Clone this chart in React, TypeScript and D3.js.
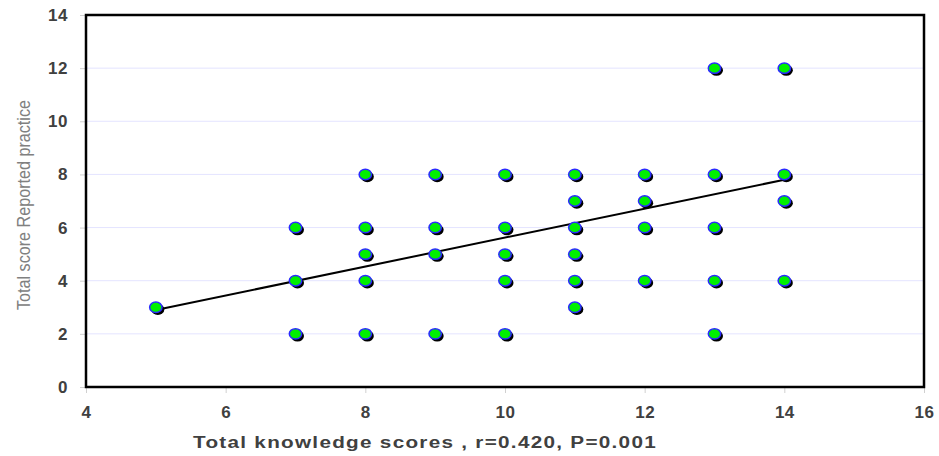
import React, { useEffect, useRef } from 'react';
import * as d3 from 'd3';

const width = 939;
const height = 456;

const margin = {
  top: 15,
  right: 15,
  bottom: 69,
  left: 86
};

// knowledge score (x) and reported practice score (y) per respondent
const knowledge = [5, 7, 7, 7, 8, 8, 8, 8, 8, 9, 9, 9, 9, 10, 10, 10, 10, 10, 11, 11, 11, 11, 11, 11, 12, 12, 12, 12, 13, 13, 13, 13, 13, 14, 14, 14, 14];
const practice = [3, 6, 4, 2, 8, 6, 5, 4, 2, 8, 6, 5, 2, 8, 6, 5, 4, 2, 8, 7, 6, 5, 4, 3, 8, 7, 6, 4, 12, 8, 6, 4, 2, 12, 8, 7, 4];

// fitted line end points
const fitX = [5, 14];
const fitY = [2.9, 7.8];

const xTicks = [4, 6, 8, 10, 12, 14, 16];
const yTicks = [0, 2, 4, 6, 8, 10, 12, 14];

const xTitle = 'Total knowledge scores , r=0.420, P=0.001';
const yTitle = 'Total score Reported practice';

const tickFont = (sel: any) => sel
  .attr('fill', '#404040')
  .style('font-family', 'Liberation Sans, Arial, sans-serif')
  .style('font-weight', 'bold')
  .style('font-size', '17px')
  .style('letter-spacing', '0.5px');

const App = () => {
  const xAxisRef = useRef(null);
  const yAxisRef = useRef(null);

  const xScale = d3.scaleLinear()
    .domain([4, 16])
    .range([margin.left, width - margin.right]);

  const yScale = d3.scaleLinear()
    .domain([0, 14])
    .range([height - margin.bottom, margin.top]);

  useEffect(() => {
    const xAxis = d3.axisBottom(xScale).tickValues(xTicks).tickSize(6).tickPadding(13);
    const gx = d3.select(xAxisRef.current);
    gx.call(xAxis);
    gx.select('.domain').remove();
    gx.selectAll('line').attr('stroke', '#d0d0d0');
    tickFont(gx.selectAll('text'));

    const yAxis = d3.axisLeft(yScale).tickValues(yTicks).tickSize(6).tickPadding(12);
    const gy = d3.select(yAxisRef.current);
    gy.call(yAxis);
    gy.select('.domain').remove();
    gy.selectAll('line').attr('stroke', '#d0d0d0');
    tickFont(gy.selectAll('text'));
  });

  const points = knowledge.map((k, i) => ({ x: xScale(k), y: yScale(practice[i]) }));

  const fitLine = d3.line<number>()
    .x(d => xScale(d))
    .y((d, i) => yScale(fitY[i]));

  const plotW = width - margin.left - margin.right;
  const plotH = height - margin.top - margin.bottom;

  return (
    <svg width={width} height={height} style={{ position: 'absolute', left: 0, top: 0, background: '#fff' }}>
      {yTicks.filter(t => t > 0 && t < 14).map(t => (
        <line
          key={t}
          x1={margin.left}
          x2={width - margin.right}
          y1={yScale(t)}
          y2={yScale(t)}
          stroke="#e4e4ff"
          strokeWidth={1}
        />
      ))}
      <g ref={xAxisRef} transform={`translate(0, ${height - margin.bottom})`} />
      <g ref={yAxisRef} transform={`translate(${margin.left}, 0)`} />
      <rect
        x={margin.left}
        y={margin.top}
        width={plotW}
        height={plotH}
        fill="none"
        stroke="#000"
        strokeWidth={2.5}
      />
      <path d={fitLine(fitX) || ''} fill="none" stroke="#000" strokeWidth={2} />
      {points.map((p, i) => (
        <g key={i}>
          <ellipse cx={p.x + 2} cy={p.y + 2.2} rx={6.5} ry={5.5} fill="#000" />
          <ellipse cx={p.x} cy={p.y} rx={6.2} ry={5.2} fill="#00f000" stroke="#2a2aff" strokeWidth={1.5} />
        </g>
      ))}
      <text
        x={193}
        y={448}
        textLength={464}
        lengthAdjust="spacingAndGlyphs"
        fill="#404040"
        style={{ fontFamily: 'Liberation Sans, Arial, sans-serif', fontWeight: 'bold', fontSize: '16px', letterSpacing: '1px' }}
      >
        {xTitle}
      </text>
      <text
        transform={`translate(30, 205) rotate(-90)`}
        textAnchor="middle"
        textLength={210}
        lengthAdjust="spacingAndGlyphs"
        fill="#808080"
        style={{ fontFamily: 'Liberation Sans Narrow, Liberation Sans, sans-serif', fontSize: '19px' }}
      >
        {yTitle}
      </text>
    </svg>
  );
};

export default App;
